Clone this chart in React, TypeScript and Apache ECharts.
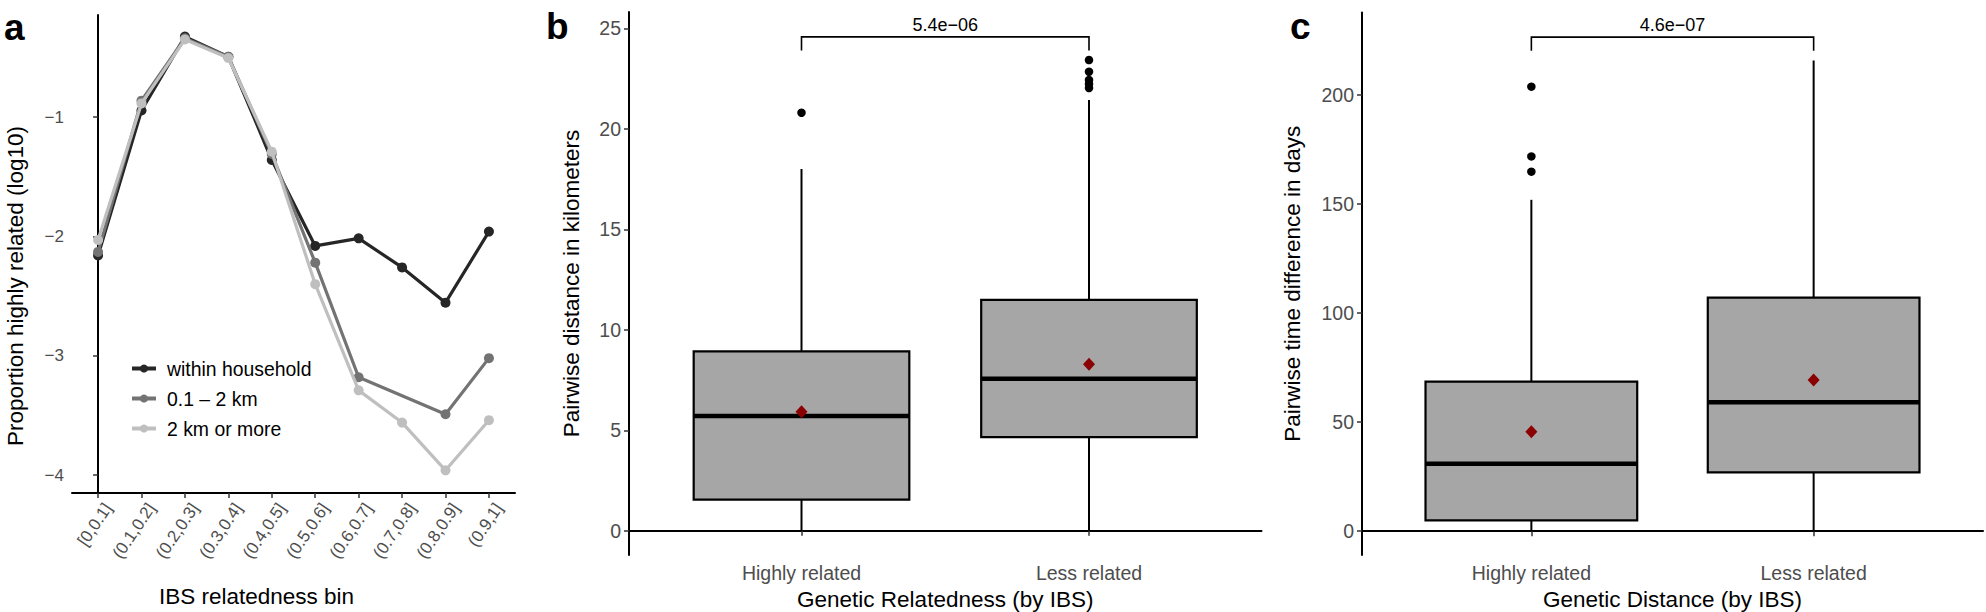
import React, { useEffect, useRef } from 'react';
import * as echarts from 'echarts';

const FONT = "'Liberation Sans', Arial, Helvetica, sans-serif";

// ---------- Panel a data ----------
const ibsBins = ['[0,0.1]', '(0.1,0.2]', '(0.2,0.3]', '(0.3,0.4]', '(0.4,0.5]', '(0.5,0.6]', '(0.6,0.7]', '(0.7,0.8]', '(0.8,0.9]', '(0.9,1]'];
const seriesNames = ['within household', '0.1 – 2 km', '2 km or more'];
const householdValues = [-2.16, -0.945, -0.326, -0.495, -1.36, -2.08, -2.016, -2.26, -2.555, -1.96];
const nearValues = [-2.13, -0.863, -0.34, -0.495, -1.31, -2.22, -3.18, null, -3.49, -3.02];
const farValues = [-2.03, -0.886, -0.35, -0.505, -1.29, -2.40, -3.29, -3.56, -3.96, -3.54];
const lineColors = ['#262626', '#737373', '#BFBFBF'];
const panelATicks = [-4, -3, -2, -1];

// ---------- Panel b data ----------
const relCategories = ['Highly related', 'Less related'];
// [min, Q1, median, Q3, max]
const distBoxes = [
  [0, 1.55, 5.71, 8.93, 18.0],
  [0, 4.66, 7.57, 11.49, 21.43],
];
const distMeans = [5.92, 8.29];
const distOutliers = [[20.8], [22.03, 22.23, 22.43, 22.84, 23.42]];
const distBracket = [24.57, 23.9]; // top, leg end
const distPValue = '5.4e−06';
const distTicks = [0, 5, 10, 15, 20, 25];

// ---------- Panel c data ----------
const timeBoxes = [
  [0, 5.0, 31.0, 68.6, 152.0],
  [0, 27.0, 59.1, 107.1, 215.9],
];
const timeMeans = [45.6, 69.4];
const timeOutliers = [[164.9, 171.9, 203.9], []];
const timeBracket = [226.6, 220.4];
const timePValue = '4.6e−07';
const timeTicks = [0, 50, 100, 150, 200];

const minusFmt = (v: number) => (v < 0 ? '−' + Math.abs(v) : String(v));
// rotated labels hang slightly right of their tick (hjust = 1, vjust = 1 style)
const ROT_LABEL_SHIFT = 0.23;

function boxRender(params: any, api: any) {
  const x = api.value(0);
  const lo = api.coord([x, api.value(1)]);
  const q1 = api.coord([x, api.value(2)]);
  const med = api.coord([x, api.value(3)]);
  const q3 = api.coord([x, api.value(4)]);
  const hi = api.coord([x, api.value(5)]);
  const hw = api.size([0.75, 0])[0] / 2;
  const cx = lo[0];
  const lineStyle = { stroke: '#000', lineWidth: 2 };
  return {
    type: 'group',
    children: [
      { type: 'line', shape: { x1: cx, y1: q1[1], x2: cx, y2: lo[1] }, style: lineStyle },
      { type: 'line', shape: { x1: cx, y1: q3[1], x2: cx, y2: hi[1] }, style: lineStyle },
      {
        type: 'rect',
        shape: { x: cx - hw, y: q3[1], width: hw * 2, height: q1[1] - q3[1] },
        style: { fill: '#A6A6A6', stroke: '#000', lineWidth: 2.2 },
      },
      { type: 'line', shape: { x1: cx - hw, y1: med[1], x2: cx + hw, y2: med[1] }, style: { stroke: '#000', lineWidth: 4.5 } },
    ],
  };
}

function bracketRender(pText: string) {
  return (params: any, api: any) => {
    const x1 = api.value(0);
    const x2 = api.value(1);
    const top = api.value(2);
    const leg = api.value(3);
    const a = api.coord([x1, leg]);
    const b = api.coord([x1, top]);
    const c = api.coord([x2, top]);
    const d = api.coord([x2, leg]);
    return {
      type: 'group',
      children: [
        {
          type: 'polyline',
          shape: { points: [a, b, c, d] },
          style: { stroke: '#000', lineWidth: 1.6, fill: 'none' },
        },
        {
          type: 'text',
          x: (b[0] + c[0]) / 2,
          y: b[1] - 3,
          style: { text: pText, fill: '#000', font: `18px ${FONT}`, align: 'center', verticalAlign: 'bottom' },
        },
      ],
    };
  };
}

const axisLine = { show: true, lineStyle: { color: '#000', width: 2 } };
const axisTick = { show: true, length: 5, lineStyle: { color: '#333', width: 1.5 } };
const nameStyle = { color: '#000', fontSize: 22.5, fontFamily: FONT };

function boxPanel(
  gi: number,
  boxes: number[][],
  means: number[],
  outliers: number[][],
  bracket: number[],
  pText: string,
) {
  const boxData = boxes.map((b, i) => [i + 1, ...b]);
  const meanData = means.map((m, i) => [i + 1, m]);
  const outData: number[][] = [];
  outliers.forEach((arr, i) => arr.forEach((v) => outData.push([i + 1, v])));
  return [
    {
      type: 'custom',
      xAxisIndex: gi,
      yAxisIndex: gi,
      renderItem: boxRender,
      encode: { x: 0, y: [1, 2, 3, 4, 5] },
      data: boxData,
      z: 2,
    },
    {
      type: 'scatter',
      xAxisIndex: gi,
      yAxisIndex: gi,
      data: outData,
      symbol: 'circle',
      symbolSize: 8.5,
      itemStyle: { color: '#000', opacity: 1 },
      z: 3,
    },
    {
      type: 'scatter',
      xAxisIndex: gi,
      yAxisIndex: gi,
      data: meanData,
      symbol: 'diamond',
      symbolSize: [12, 13],
      itemStyle: { color: '#8B0000', opacity: 1 },
      z: 4,
    },
    {
      type: 'custom',
      xAxisIndex: gi,
      yAxisIndex: gi,
      renderItem: bracketRender(pText),
      encode: { x: [0, 1], y: [2, 3] },
      data: [[1, 2, bracket[0], bracket[1]]],
      z: 5,
    },
  ];
}

function buildOption() {
  const lineSeries = [householdValues, nearValues, farValues].map((vals, i) => ({
    type: 'line',
    name: seriesNames[i],
    xAxisIndex: 0,
    yAxisIndex: 0,
    data: vals.map((v, j) => [j, v]),
    connectNulls: true,
    symbol: 'circle',
    symbolSize: 10,
    showSymbol: true,
    lineStyle: { color: lineColors[i], width: 3.2 },
    itemStyle: { color: lineColors[i], opacity: 1 },
    z: 2 + i,
  }));

  return {
    animation: false,
    backgroundColor: '#fff',
    textStyle: { fontFamily: FONT },
    grid: [
      { left: 72, top: 15, width: 443, height: 478, outerBoundsMode: 'none' },
      { left: 629, top: 12, width: 632.5, height: 543, outerBoundsMode: 'none' },
      { left: 1362, top: 12.5, width: 621, height: 542.5, outerBoundsMode: 'none' },
    ],
    legend: {
      data: seriesNames,
      orient: 'vertical',
      left: 125,
      top: 354,
      itemWidth: 24,
      itemHeight: 10,
      itemGap: 11,
      lineStyle: { width: 4 },
      textStyle: { color: '#000', fontSize: 19.4, fontFamily: FONT, padding: [0, 0, 0, 6] },
    },
    xAxis: [
      {
        type: 'value',
        gridIndex: 0,
        min: -0.6,
        max: 9.6,
        splitLine: { show: false },
        axisLine,
        axisTick: { ...axisTick, customValues: ibsBins.map((_, i) => i) },
        axisLabel: {
          customValues: ibsBins.map((_, i) => i + ROT_LABEL_SHIFT),
          formatter: (v: number) => ibsBins[Math.round(v - ROT_LABEL_SHIFT)],
          rotate: 56,
          margin: 12,
          color: '#4D4D4D',
          fontSize: 17,
          fontFamily: FONT,
        },
        name: 'IBS relatedness bin',
        nameLocation: 'middle',
        nameGap: 92,
        nameTextStyle: { ...nameStyle, padding: [0, 74, 0, 0] },
      },
      ...[1, 2].map((gi) => ({
        type: 'value',
        gridIndex: gi,
        min: 0.4,
        max: 2.6,
        splitLine: { show: false },
        axisLine,
        axisTick: { ...axisTick, customValues: [1, 2] },
        axisLabel: {
          customValues: [1, 2],
          formatter: (v: number) => relCategories[Math.round(v) - 1],
          margin: 8,
          color: '#4D4D4D',
          fontSize: 19.5,
          fontFamily: FONT,
        },
        name: gi === 1 ? 'Genetic Relatedness (by IBS)' : 'Genetic Distance (by IBS)',
        nameLocation: 'middle',
        nameGap: 33,
        nameTextStyle: nameStyle,
      })),
    ],
    yAxis: [
      {
        type: 'value',
        gridIndex: 0,
        min: -4.15,
        max: -0.145,
        splitLine: { show: false },
        axisLine,
        axisTick: { ...axisTick, customValues: panelATicks },
        axisLabel: {
          customValues: panelATicks,
          formatter: minusFmt,
          margin: 8,
          color: '#4D4D4D',
          fontSize: 17,
          fontFamily: FONT,
        },
        name: 'Proportion highly related (log10)',
        nameLocation: 'middle',
        nameGap: 45,
        nameTextStyle: { ...nameStyle, padding: [0, 64, 0, 0] },
      },
      {
        type: 'value',
        gridIndex: 1,
        min: -1.204,
        max: 25.81,
        splitLine: { show: false },
        axisLine,
        axisTick: { ...axisTick, customValues: distTicks },
        axisLabel: {
          customValues: distTicks,
          margin: 8,
          color: '#4D4D4D',
          fontSize: 19.5,
          fontFamily: FONT,
        },
        name: 'Pairwise distance in kilometers',
        nameLocation: 'middle',
        nameGap: 46,
        nameTextStyle: nameStyle,
      },
      {
        type: 'value',
        gridIndex: 2,
        min: -10.9,
        max: 237.9,
        splitLine: { show: false },
        axisLine,
        axisTick: { ...axisTick, customValues: timeTicks },
        axisLabel: {
          customValues: timeTicks,
          margin: 8,
          color: '#4D4D4D',
          fontSize: 19.5,
          fontFamily: FONT,
        },
        name: 'Pairwise time difference in days',
        nameLocation: 'middle',
        nameGap: 58,
        nameTextStyle: nameStyle,
      },
    ],
    graphic: [
      { type: 'text', x: 4, y: 27, style: { text: 'a', font: `bold 37px ${FONT}`, fill: '#000', verticalAlign: 'middle' } },
      { type: 'text', x: 546, y: 26, style: { text: 'b', font: `bold 37px ${FONT}`, fill: '#000', verticalAlign: 'middle' } },
      { type: 'text', x: 1290, y: 26, style: { text: 'c', font: `bold 37px ${FONT}`, fill: '#000', verticalAlign: 'middle' } },
    ],
    series: [
      ...lineSeries,
      ...boxPanel(1, distBoxes, distMeans, distOutliers, distBracket, distPValue),
      ...boxPanel(2, timeBoxes, timeMeans, timeOutliers, timeBracket, timePValue),
    ],
  };
}

export default function App() {
  const ref = useRef<HTMLDivElement>(null);
  useEffect(() => {
    document.body.style.margin = '0';
    const chart = echarts.init(ref.current as HTMLDivElement, null, { renderer: 'svg' });
    chart.setOption(buildOption() as any);
    return () => chart.dispose();
  }, []);
  return <div ref={ref} style={{ width: 1986, height: 612, background: '#fff' }} />;
}
